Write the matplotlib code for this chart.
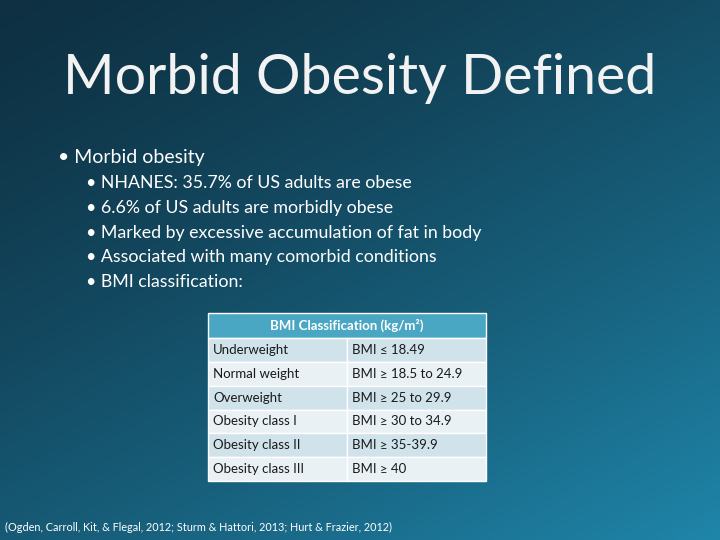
import numpy as np
import matplotlib
matplotlib.use("Agg")
import matplotlib.pyplot as plt
from matplotlib.patches import Rectangle

title = "Morbid Obesity Defined"
main_bullet = "Morbid obesity"
sub_bullets = ["NHANES: 35.7% of US adults are obese",
               "6.6% of US adults are morbidly obese",
               "Marked by excessive accumulation of fat in body",
               "Associated with many comorbid conditions",
               "BMI classification:"]
table_header = "BMI Classification (kg/m²)"
classes = ["Underweight", "Normal weight", "Overweight", "Obesity class I",
           "Obesity class II", "Obesity class III"]
ranges = ["BMI ≤ 18.49", "BMI ≥ 18.5 to 24.9", "BMI ≥ 25 to 29.9",
          "BMI ≥ 30 to 34.9", "BMI ≥ 35-39.9", "BMI ≥ 40"]
citation = "(Ogden, Carroll, Kit, & Flegal, 2012; Sturm & Hattori, 2013; Hurt & Frazier, 2012)"

FONT = ["Lato", "DejaVu Sans"]
fig = plt.figure(figsize=(7.2, 5.4), dpi=100)
ax = fig.add_axes([0, 0, 1, 1])
ax.set_xlim(0, 720); ax.set_ylim(540, 0); ax.axis("off")

# background gradient
yy, xx = np.mgrid[0:540, 0:720]
t = np.clip((xx / 720 * 0.55 + yy / 540 * 0.75) / 1.3, 0, 1)
t = t ** 1.3
c0 = np.array([0x0e, 0x30, 0x42]) / 255
c1 = np.array([0x1f, 0x86, 0xaa]) / 255
img = c0[None, None, :] * (1 - t[..., None]) + c1[None, None, :] * t[..., None]
ax.imshow(img, extent=(0, 720, 540, 0), aspect="auto", zorder=0)

ax.text(360, 78, title, color="#f2f2f2", fontsize=40, ha="center", va="center", family=FONT)
ax.text(58, 157, "• " + main_bullet, color="white", fontsize=14, va="center", family=FONT)
for i, s in enumerate(sub_bullets):
    ax.text(86, 183 + i * 24.8, "• " + s, color="white", fontsize=12.8, va="center", family=FONT)

# table
x0, x1, xm = 208, 486, 347
hy0, hy1 = 313, 338
rh = (481 - 338) / len(classes)
ax.add_patch(Rectangle((x0, hy0), x1 - x0, hy1 - hy0, facecolor="#4aa7c3", edgecolor="white", lw=1, zorder=2))
ax.text((x0 + x1) / 2, (hy0 + hy1) / 2, table_header, color="white", fontsize=9.5,
        fontweight="bold", ha="center", va="center", family=FONT, zorder=3)
for i, (c, r) in enumerate(zip(classes, ranges)):
    y = hy1 + i * rh
    fc = "#d0e3ea" if i % 2 == 0 else "#e9f1f4"
    for xa, xb, txt in [(x0, xm, c), (xm, x1, r)]:
        ax.add_patch(Rectangle((xa, y), xb - xa, rh, facecolor=fc, edgecolor="white", lw=1, zorder=2))
        ax.text(xa + 5, y + rh / 2, txt, color="#1a1a1a", fontsize=9.5, va="center", family=FONT, zorder=3)

ax.text(5, 527, citation, color="white", fontsize=7.8, va="center", family=FONT)
fig.savefig("out.png", dpi=100)
